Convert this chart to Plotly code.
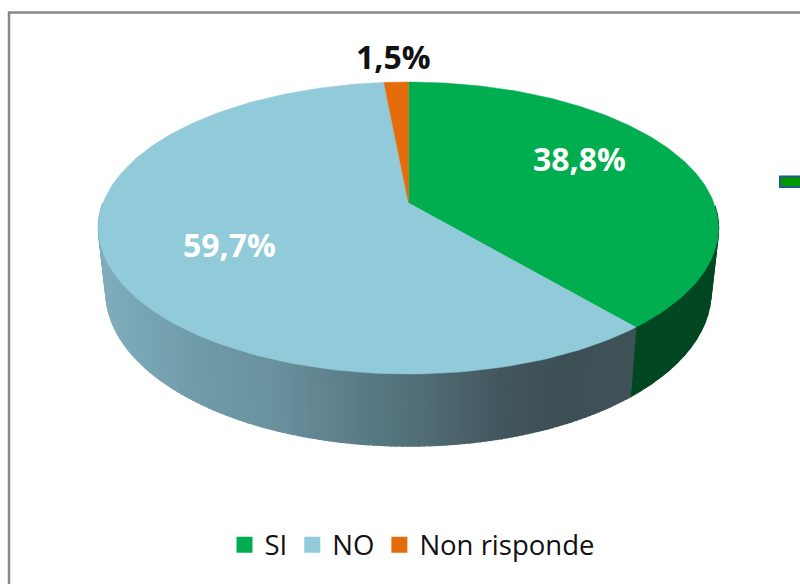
import numpy as np
import plotly.graph_objects as go

categories = ["SI", "NO", "Non risponde"]
values = [38.8, 59.7, 1.5]
value_labels = ["38,8%", "59,7%", "1,5%"]
colors = ["#00AE4F", "#91CBDA", "#E46C0A"]
wall_colors = ["#004722", None, "#5c2c04"]

CX, CY_T, A_T, B_T = 408.5, 228.0, 305.4, 146.0
CY_B, A_B, B_B = 292.0, 298.0, 154.0
K = -0.171

shade_x = [108, 200, 273, 370, 430, 500, 560, 632]
shade_r = [0x7f, 0x70, 0x6a, 0x58, 0x50, 0x43, 0x3d, 0x3f]
shade_g = [0xad, 0x9b, 0x92, 0x7a, 0x6b, 0x57, 0x50, 0x53]
shade_b = [0xbc, 0xa9, 0x9f, 0x84, 0x74, 0x5e, 0x56, 0x59]


def rim(theta, cy, a, b):
    u, v = np.sin(theta), -np.cos(theta)
    d = 1 + K * v
    return CX + a * u / d, cy + (b * v + K * b) / d


def wall_blue(x):
    return "rgb(%d,%d,%d)" % (np.interp(x, shade_x, shade_r),
                              np.interp(x, shade_x, shade_g),
                              np.interp(x, shade_x, shade_b))


fractions = np.cumsum([0] + values) / sum(values)
angles = 2 * np.pi * fractions

fig = go.Figure()

# visible outer wall, drawn as thin strips from the back sides to the front
for i in range(3):
    t0, t1 = angles[i], angles[i + 1]
    edges = np.linspace(t0, t1, 240 if wall_colors[i] is None else 50)
    for a0, a1 in zip(edges[:-1], edges[1:]):
        mid = (a0 + a1) / 2
        if np.cos(mid) > 0.0:
            continue
        x0, y0 = rim(a0, CY_T, A_T, B_T)
        x1, y1 = rim(a1, CY_T, A_T, B_T)
        x2, y2 = rim(a1, CY_B, A_B, B_B)
        x3, y3 = rim(a0, CY_B, A_B, B_B)
        c = wall_blue((x0 + x1 + x2 + x3) / 4) if wall_colors[i] is None else wall_colors[i]
        fig.add_trace(go.Scatter(x=[x0, x1, x2, x3, x0], y=[y0, y1, y2, y3, y0], mode="lines",
                                 fill="toself", fillcolor=c, line=dict(color=c, width=1.5),
                                 hoverinfo="skip", showlegend=False))

# top face of each slice
for i in range(3):
    th = np.linspace(angles[i], angles[i + 1], 160)
    xs, ys = rim(th, CY_T, A_T, B_T)
    xs = np.r_[CX, xs, CX]
    ys = np.r_[CY_T + K * B_T, ys, CY_T + K * B_T]
    fig.add_trace(go.Scatter(x=xs, y=ys, mode="lines", fill="toself", fillcolor=colors[i],
                             line=dict(color=colors[i], width=0.5), hoverinfo="skip", showlegend=False))

# legend entries
for name, c in zip(categories, colors):
    fig.add_trace(go.Scatter(x=[None], y=[None], mode="markers", name=name,
                             marker=dict(symbol="square", size=18, color=c)))

# percent labels
label_x = [579.5, 229, 393.5]
label_y = [158, 244, 56]
label_c = ["white", "white", "#111111"]
for t, x, y, c in zip(value_labels, label_x, label_y, label_c):
    fig.add_annotation(x=x, y=y, text="<b>%s</b>" % t, showarrow=False,
                       font=dict(family="Open Sans", size=32, color=c))

# chart frame (open on the right, cropped at the bottom) and stray shape at the right edge
fig.add_shape(type="line", x0=9, x1=9, y0=12, y1=584, line=dict(color="#888888", width=2.5))
fig.add_shape(type="line", x0=8, x1=800, y0=12.5, y1=12.5, line=dict(color="#888888", width=2.5))
fig.add_shape(type="rect", x0=780, x1=803, y0=176.5, y1=187, fillcolor="#009900",
              line=dict(color="#1f5a96", width=2))

fig.update_layout(
    width=800, height=584, margin=dict(l=0, r=0, t=0, b=0),
    paper_bgcolor="white", plot_bgcolor="white",
    xaxis=dict(range=[0, 800], visible=False, fixedrange=True),
    yaxis=dict(range=[584, 0], visible=False, fixedrange=True),
    font=dict(family="Open Sans", size=27.5, color="#111111"),
    legend=dict(orientation="h", x=0.515, xanchor="center", y=0.067, yanchor="middle",
                font=dict(size=27.5), bgcolor="rgba(0,0,0,0)", itemwidth=30),
)
fig.write_html("out.html", config={"displayModeBar": False},
               post_script="document.body.style.margin='0';document.body.style.overflow='hidden';")
